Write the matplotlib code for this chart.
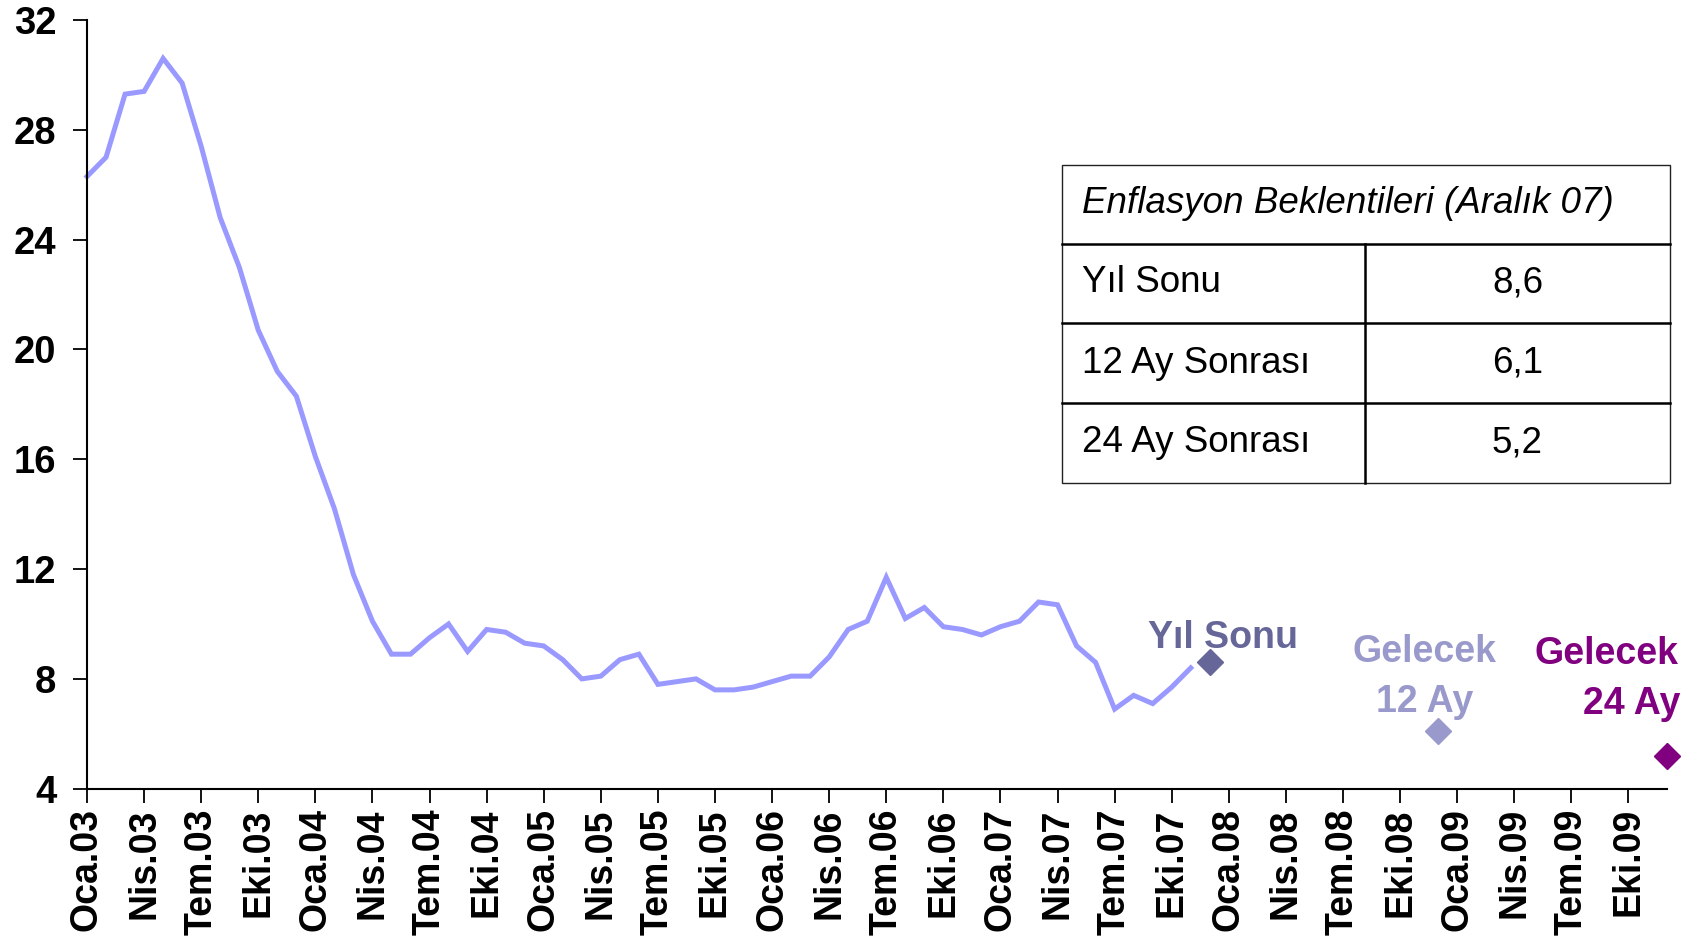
import matplotlib
matplotlib.use("Agg")
import matplotlib.pyplot as plt
from matplotlib.lines import Line2D
from matplotlib.patches import Rectangle

plt.rcParams['font.family'] = ['Liberation Sans', 'DejaVu Sans']

# ---------------- data ----------------
month_names = ["Oca", "Şub", "Mar", "Nis", "May", "Haz", "Tem", "Ağu", "Eyl", "Eki", "Kas", "Ara"]
years = ["03", "04", "05", "06", "07", "08", "09"]
month_labels = [f"{m}.{y}" for y in years for m in month_names]   # Oca.03 ... Ara.09

inflation = [26.3, 27.0, 29.3, 29.4, 30.6, 29.7, 27.4, 24.8, 23.0, 20.7, 19.2, 18.3,
             16.1, 14.2, 11.8, 10.1, 8.9, 8.9, 9.5, 10.0, 9.0, 9.8, 9.7, 9.3,
             9.2, 8.7, 8.0, 8.1, 8.7, 8.9, 7.8, 7.9, 8.0, 7.6, 7.6, 7.7,
             7.9, 8.1, 8.1, 8.8, 9.8, 10.1, 11.7, 10.2, 10.6, 9.9, 9.8, 9.6,
             9.9, 10.1, 10.8, 10.7, 9.2, 8.6, 6.9, 7.4, 7.1, 7.7, 8.4]

exp_months = ["Ara.07", "Ara.08", "Ara.09"]
exp_values = [8.6, 6.1, 5.2]
exp_labels = [["Yıl Sonu"], ["Gelecek", "12 Ay"], ["Gelecek", "24 Ay"]]
exp_colors = ["#666699", "#9999CC", "#800080"]

table_title = "Enflasyon Beklentileri (Aralık 07)"
table_rows = ["Yıl Sonu", "12 Ay Sonrası", "24 Ay Sonrası"]

y_ticks = [4, 8, 12, 16, 20, 24, 28, 32]

# ---------------- figure ----------------
W, H = 1699, 946
fig = plt.figure(figsize=(W / 100, H / 100), dpi=100)
ax = fig.add_axes([87 / W, 1 - 788.7 / H, (1666.5 - 87) / W, (788.7 - 20) / H])

x_line = list(range(len(inflation)))
ax.plot(x_line, inflation, color="#9999FF", lw=3.6, solid_joinstyle="miter", clip_on=False)

exp_x = [month_labels.index(m) for m in exp_months]
for xi, v, c in zip(exp_x, exp_values, exp_colors):
    ax.plot([xi], [v], marker="D", ms=13.5, color=c, ls="none", clip_on=False, zorder=5)

# labels near expectation points (pixel offsets)
lab_fs = 27
ax.annotate(exp_labels[0][0], (exp_x[0], exp_values[0]), xytext=(13, 14),
            textcoords="offset pixels", ha="center", va="baseline",
            fontsize=lab_fs, fontweight="bold", color=exp_colors[0])
ax.annotate(exp_labels[1][0], (exp_x[1], exp_values[1]), xytext=(-14, 69),
            textcoords="offset pixels", ha="center", va="baseline",
            fontsize=lab_fs, fontweight="bold", color=exp_colors[1])
ax.annotate(exp_labels[1][1], (exp_x[1], exp_values[1]), xytext=(-14, 19),
            textcoords="offset pixels", ha="center", va="baseline",
            fontsize=lab_fs, fontweight="bold", color=exp_colors[1])
ax.annotate(exp_labels[2][0], (exp_x[2], exp_values[2]), xytext=(12, 92),
            textcoords="offset pixels", ha="right", va="baseline",
            fontsize=lab_fs, fontweight="bold", color=exp_colors[2], annotation_clip=False)
ax.annotate(exp_labels[2][1], (exp_x[2], exp_values[2]), xytext=(14, 42),
            textcoords="offset pixels", ha="right", va="baseline",
            fontsize=lab_fs, fontweight="bold", color=exp_colors[2], annotation_clip=False)

# axes styling
ax.set_xlim(0, len(month_labels) - 1)
ax.set_ylim(4, 32)
ax.set_yticks(y_ticks)
ax.set_yticklabels([str(t) for t in y_ticks], fontsize=27.5, fontweight="bold")
xt = list(range(0, len(month_labels), 3))
ax.set_xticks(xt)
ax.set_xticklabels([month_labels[i] for i in xt], rotation=90, fontsize=27, fontweight="bold")
for s in ["top", "right"]:
    ax.spines[s].set_visible(False)
for s in ["left", "bottom"]:
    ax.spines[s].set_linewidth(1.5)
ax.tick_params(axis="y", direction="out", length=10, width=1.3, pad=12)
ax.tick_params(axis="x", direction="out", length=10, width=1.3, pad=4)

# ---------------- table ----------------
def fx(px):
    return px / W

def fy(py):
    return 1 - py / H

left, mid, right = 1062, 1365, 1670
rows_y = [165, 244, 323, 403, 483]
fig.add_artist(Rectangle((fx(left), fy(rows_y[-1])), fx(right) - fx(left),
                         fy(rows_y[0]) - fy(rows_y[-1]), transform=fig.transFigure,
                         fill=False, lw=1.0, edgecolor="#222222"))
for yy in rows_y[1:-1]:
    fig.add_artist(Line2D([fx(left), fx(right)], [fy(yy), fy(yy)],
                          transform=fig.transFigure, color="black", lw=1.8))
fig.add_artist(Line2D([fx(mid), fx(mid)], [fy(rows_y[1]), fy(rows_y[-1])],
                      transform=fig.transFigure, color="black", lw=1.8))

fig.text(fx(1082), fy(rows_y[1] - 31), table_title, fontsize=26.5, style="italic",
         ha="left", va="baseline")
for i, (name, val) in enumerate(zip(table_rows, exp_values)):
    base = rows_y[i + 2] - 30.5
    fig.text(fx(1082), fy(base), name, fontsize=26.5, ha="left", va="baseline")
    fig.text(fx((mid + right) / 2), fy(base), f"{val:.1f}".replace(".", ","),
             fontsize=26.5, ha="center", va="baseline")

fig.savefig("out.png", dpi=100, facecolor="white")
